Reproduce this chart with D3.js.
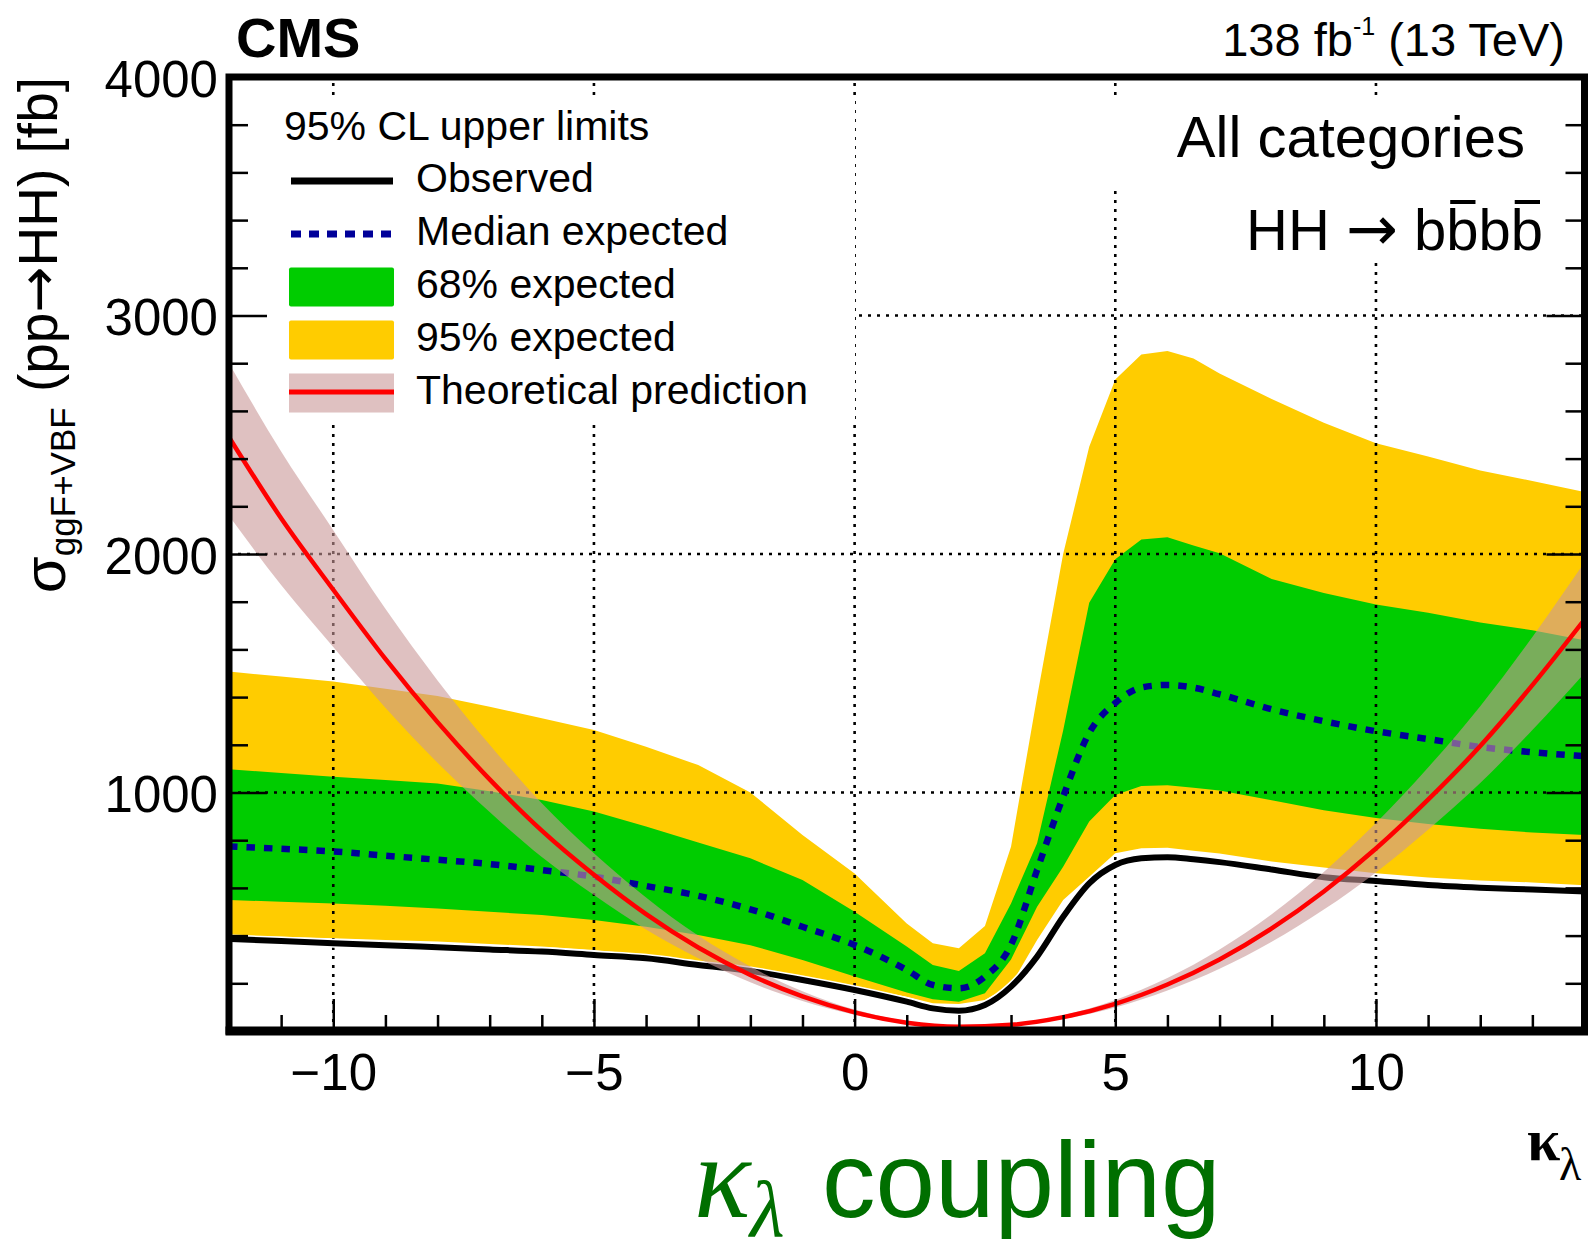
<!DOCTYPE html>
<html>
<head>
<meta charset="utf-8">
<script src="https://cdnjs.cloudflare.com/ajax/libs/d3/7.8.5/d3.min.js"></script>
<style>
  body { margin: 0; background: #fff; }
  svg { display: block; }
  text { font-family: "Liberation Sans", Arial, Helvetica, sans-serif; fill: #000; }
  .arrow { font-family: "DejaVu Sans", sans-serif; }
  .serif { font-family: "Liberation Serif", "DejaVu Serif", serif; }
</style>
</head>
<body>
<svg width="1588" height="1254"></svg>
<script>
// kappa_lambda scan points of the limits
const kl = [-12, -11, -10, -9, -8, -7, -6, -5, -4, -3, -2, -1, 0, 1, 1.5, 2, 2.5, 3, 3.5, 4, 4.5, 5, 5.5, 6, 6.5, 7, 8, 9, 10, 11, 12, 13, 14];
// limits in fb
const observed  = [386, 377, 368, 360, 351, 342, 333, 319, 305, 277, 252, 214, 172, 123, 95, 85, 109, 186, 312, 479, 619, 696, 724, 729, 720, 708, 677, 645, 629, 612, 601, 593, 585];
const median    = [774, 764, 753, 735, 718, 700, 675, 647, 608, 567, 510, 437, 361, 256, 193, 179, 228, 361, 675, 983, 1250, 1375, 1440, 1451, 1440, 1412, 1349, 1299, 1257, 1224, 1191, 1169, 1152];
const exp68Up   = [1097, 1082, 1066, 1052, 1038, 1005, 969, 920, 857, 790, 724, 633, 500, 354, 277, 252, 326, 535, 787, 1260, 1796, 1978, 2061, 2070, 2036, 2003, 1895, 1837, 1788, 1754, 1713, 1680, 1638];
const exp68Down = [549, 542, 535, 525, 514, 500, 486, 465, 437, 402, 360, 298, 228, 161, 133, 123, 158, 300, 521, 689, 878, 990, 1027, 1030, 1020, 1008, 967, 926, 893, 868, 848, 832, 822];
const exp95Up   = [1507, 1486, 1465, 1435, 1405, 1360, 1311, 1262, 1192, 1115, 1000, 822, 660, 451, 368, 347, 440, 773, 1400, 2000, 2450, 2732, 2836, 2851, 2820, 2757, 2650, 2550, 2464, 2409, 2350, 2306, 2260];
const exp95Down = [402, 395, 389, 382, 375, 365, 354, 340, 319, 291, 263, 228, 186, 144, 116, 113, 130, 193, 382, 549, 647, 745, 766, 768, 756, 744, 711, 686, 661, 644, 631, 623, 611];

// theoretical prediction
const thKl       = [-12, -11, -10, -9, -8, -7, -6, -5, -4, -3, -2, -1, 0, 1, 2, 3, 4, 5, 6, 7, 8, 9, 10, 11, 12, 13, 14];
const theory     = [2490, 2150, 1850, 1560, 1295, 1055, 840, 655, 490, 350, 235, 145, 78, 35, 18, 26, 58, 114, 195, 300, 430, 585, 765, 970, 1195, 1450, 1725];
const theoryUp   = [2800, 2430, 2100, 1770, 1470, 1200, 955, 745, 560, 400, 270, 167, 90, 41, 21, 30, 66, 130, 222, 342, 490, 667, 872, 1105, 1362, 1652, 1965];
const theoryDown = [2160, 1870, 1610, 1355, 1125, 918, 730, 570, 426, 305, 204, 126, 68, 30, 16, 23, 50, 99, 170, 261, 374, 509, 665, 844, 1040, 1262, 1500];

const xTicks = [-10, -5, 0, 5, 10];
const yTicks = [1000, 2000, 3000, 4000];
const legendLabels = ["Observed", "Median expected", "68% expected", "95% expected", "Theoretical prediction"];

const svg = d3.select("svg");
svg.append("rect").attr("width", 1588).attr("height", 1254).attr("fill", "#fff");

const x = d3.scaleLinear().domain([-12, 14]).range([229, 1584.5]);
const y = d3.scaleLinear().domain([0, 4000]).range([1031, 77]);

svg.append("defs").append("clipPath").attr("id", "plot")
  .append("rect")
  .attr("x", x(-12)).attr("y", y(4000))
  .attr("width", x(14) - x(-12)).attr("height", y(0) - y(4000));

const idx = d3.range(kl.length);
const thIdx = d3.range(thKl.length);
const band = (lo, hi) => d3.area().x(i => x(kl[i])).y0(i => y(lo[i])).y1(i => y(hi[i]))(idx);
const curve = vals => d3.line().curve(d3.curveMonotoneX).x(i => x(kl[i])).y(i => y(vals[i]))(idx);

// expected bands
const fills = svg.append("g").attr("clip-path", "url(#plot)");
fills.append("path").attr("d", band(exp95Down, exp95Up)).attr("fill", "#ffcc00");
fills.append("path").attr("d", band(exp68Down, exp68Up)).attr("fill", "#00cc00");

// dotted grid
const grid = svg.append("g")
  .attr("stroke", "#000").attr("stroke-width", 2.6).attr("stroke-dasharray", "3,6");
grid.selectAll("line.gx").data(xTicks).join("line")
  .attr("x1", d => x(d)).attr("x2", d => x(d))
  .attr("y1", y(0)).attr("y2", y(4000));
grid.selectAll("line.gy").data(yTicks.filter(v => v < 4000)).join("line")
  .attr("x1", x(-12)).attr("x2", x(14))
  .attr("y1", d => y(d)).attr("y2", d => y(d));

// boxes behind legend and labels hide the grid
svg.append("rect").attr("x", 233).attr("y", 97).attr("width", 622).attr("height", 323).attr("fill", "#fff");
svg.append("rect").attr("x", 1105).attr("y", 97).attr("width", 476).attr("height", 88).attr("fill", "#fff");
svg.append("rect").attr("x", 1200).attr("y", 185).attr("width", 381).attr("height", 78).attr("fill", "#fff");

// limit lines and theory
const lines = svg.append("g").attr("clip-path", "url(#plot)");
lines.append("path").attr("d", curve(median))
  .attr("fill", "none").attr("stroke", "#000099").attr("stroke-width", 6.5).attr("stroke-dasharray", "8.5,9");
lines.append("path").attr("d", curve(observed))
  .attr("fill", "none").attr("stroke", "#fff").attr("stroke-width", 9);
lines.append("path").attr("d", curve(observed))
  .attr("fill", "none").attr("stroke", "#000").attr("stroke-width", 6);
lines.append("path")
  .attr("d", d3.area().curve(d3.curveMonotoneX)
    .x(i => x(thKl[i])).y0(i => y(theoryDown[i])).y1(i => y(theoryUp[i]))(thIdx))
  .attr("fill", "rgb(202,151,152)").attr("fill-opacity", 0.6);
lines.append("path")
  .attr("d", d3.line().curve(d3.curveMonotoneX).x(i => x(thKl[i])).y(i => y(theory[i]))(thIdx))
  .attr("fill", "none").attr("stroke", "#ff0000").attr("stroke-width", 4.5);

// axes
const yMinor = d3.range(200, 4000, 200).filter(v => v % 1000 !== 0);
const xMinor = d3.range(-11, 14).filter(v => v % 5 !== 0);

function styleAxis(g) {
  g.select(".domain").remove();
  g.selectAll("line").attr("stroke", "#000").attr("stroke-width", 2.5);
  g.attr("font-family", null).attr("font-size", null);
}

const axL = svg.append("g").attr("transform", `translate(${x(-12)},0)`);
axL.call(d3.axisLeft(y).tickValues(yTicks).tickSize(-38).tickPadding(11).tickFormat(d3.format("d")));
axL.append("g").call(d3.axisLeft(y).tickValues(yMinor).tickSize(-19).tickFormat(""));
axL.call(styleAxis);
axL.selectAll("g").call(styleAxis);
axL.selectAll("text").attr("font-size", 51).attr("dy", "0.38em").attr("fill", "#000");

const axR = svg.append("g").attr("transform", `translate(${x(14)},0)`);
axR.call(d3.axisRight(y).tickValues(yTicks).tickSize(-38).tickFormat(""));
axR.append("g").call(d3.axisRight(y).tickValues(yMinor).tickSize(-19).tickFormat(""));
axR.call(styleAxis);
axR.selectAll("g").call(styleAxis);

const axB = svg.append("g").attr("transform", `translate(0,${y(0)})`);
axB.call(d3.axisBottom(x).tickValues(xTicks).tickSize(-32).tickPadding(23).tickFormat(d3.format("d")));
axB.append("g").call(d3.axisBottom(x).tickValues(xMinor).tickSize(-16).tickFormat(""));
axB.call(styleAxis);
axB.selectAll("g").call(styleAxis);
axB.selectAll("text").attr("font-size", 51).attr("fill", "#000");

// frame
svg.append("rect")
  .attr("x", x(-12)).attr("y", y(4000))
  .attr("width", x(14) - x(-12)).attr("height", y(0) - y(4000))
  .attr("fill", "none").attr("stroke", "#000").attr("stroke-width", 7);
svg.append("line")
  .attr("x1", x(-12) - 3.5).attr("x2", x(14) + 3.5).attr("y1", y(0)).attr("y2", y(0))
  .attr("stroke", "#000").attr("stroke-width", 9);

// legend
const leg = svg.append("g");
leg.append("text").attr("x", 284).attr("y", 140).attr("font-size", 41).text("95% CL upper limits");
const rowY = legendLabels.map((d, i) => 181 + i * 53);
leg.selectAll("text.lab").data(legendLabels).join("text")
  .attr("x", 416).attr("y", (d, i) => rowY[i] + 11).attr("font-size", 41).text(d => d);
leg.append("line").attr("x1", 291).attr("x2", 393).attr("y1", rowY[0]).attr("y2", rowY[0])
  .attr("stroke", "#000").attr("stroke-width", 7);
leg.append("line").attr("x1", 291).attr("x2", 393).attr("y1", rowY[1]).attr("y2", rowY[1])
  .attr("stroke", "#000099").attr("stroke-width", 7).attr("stroke-dasharray", "10,8");
leg.append("rect").attr("x", 289).attr("y", rowY[2] - 19.5).attr("width", 105).attr("height", 39).attr("rx", 2).attr("fill", "#00cc00");
leg.append("rect").attr("x", 289).attr("y", rowY[3] - 19.5).attr("width", 105).attr("height", 39).attr("rx", 2).attr("fill", "#ffcc00");
leg.append("rect").attr("x", 289).attr("y", rowY[4] - 19.5).attr("width", 105).attr("height", 39)
  .attr("fill", "rgb(202,151,152)").attr("fill-opacity", 0.6);
leg.append("line").attr("x1", 289).attr("x2", 394).attr("y1", rowY[4] - 1).attr("y2", rowY[4] - 1)
  .attr("stroke", "#ff0000").attr("stroke-width", 5);

// header texts
svg.append("text").attr("x", 236).attr("y", 57).attr("font-size", 56).attr("font-weight", "bold").text("CMS");
const lumi = svg.append("text").attr("x", 1565).attr("y", 56).attr("font-size", 47).attr("text-anchor", "end");
lumi.append("tspan").text("138 fb");
lumi.append("tspan").attr("font-size", 25).attr("dy", -21).text("-1");
lumi.append("tspan").attr("dy", 21).text(" (13 TeV)");

svg.append("text").attr("x", 1525).attr("y", 157).attr("font-size", 58).attr("text-anchor", "end").text("All categories");
const proc = svg.append("text").attr("x", 1543).attr("y", 250).attr("font-size", 58).attr("text-anchor", "end");
proc.append("tspan").text("HH ");
proc.append("tspan").attr("class", "arrow").attr("font-size", 62).text("\u2192");
proc.append("tspan").text(" bbbb");
[6, 8].forEach(i => {
  const e = proc.node().getExtentOfChar(i);
  svg.append("line")
    .attr("x1", e.x + 4).attr("x2", e.x + e.width - 3)
    .attr("y1", 202).attr("y2", 202)
    .attr("stroke", "#000").attr("stroke-width", 4);
});

// y title
const yt = svg.append("text").attr("transform", "translate(57,77) rotate(-90)")
  .attr("text-anchor", "end").attr("font-size", 55);
yt.append("tspan").attr("dy", 8).attr("font-size", 60).text("\u03c3");
yt.append("tspan").attr("font-size", 35).attr("dy", 10).text("ggF+VBF");
yt.append("tspan").attr("dy", -18).text(" (pp");
yt.append("tspan").attr("class", "arrow").text("\u2192");
yt.append("tspan").text("HH) [fb]");

// x title
const xt = svg.append("text").attr("class", "serif").attr("x", 1527).attr("y", 1160);
xt.append("tspan").attr("font-size", 60).attr("font-weight", "bold").text("\u03ba");
xt.append("tspan").attr("x", 1559).attr("dy", 20).attr("font-size", 46).text("\u03bb");

// big coupling label
const kappa = svg.append("text").attr("class", "serif").attr("x", 694).attr("y", 1217)
  .attr("font-style", "italic").style("fill", "#006f00");
kappa.append("tspan").attr("font-size", 118).text("\u03ba");
kappa.append("tspan").attr("x", 750).attr("dy", 19).attr("font-size", 80).text("\u03bb");
svg.append("text").attr("x", 822).attr("y", 1217).attr("font-size", 107).style("fill", "#006f00").text("coupling");
</script>
</body>
</html>
